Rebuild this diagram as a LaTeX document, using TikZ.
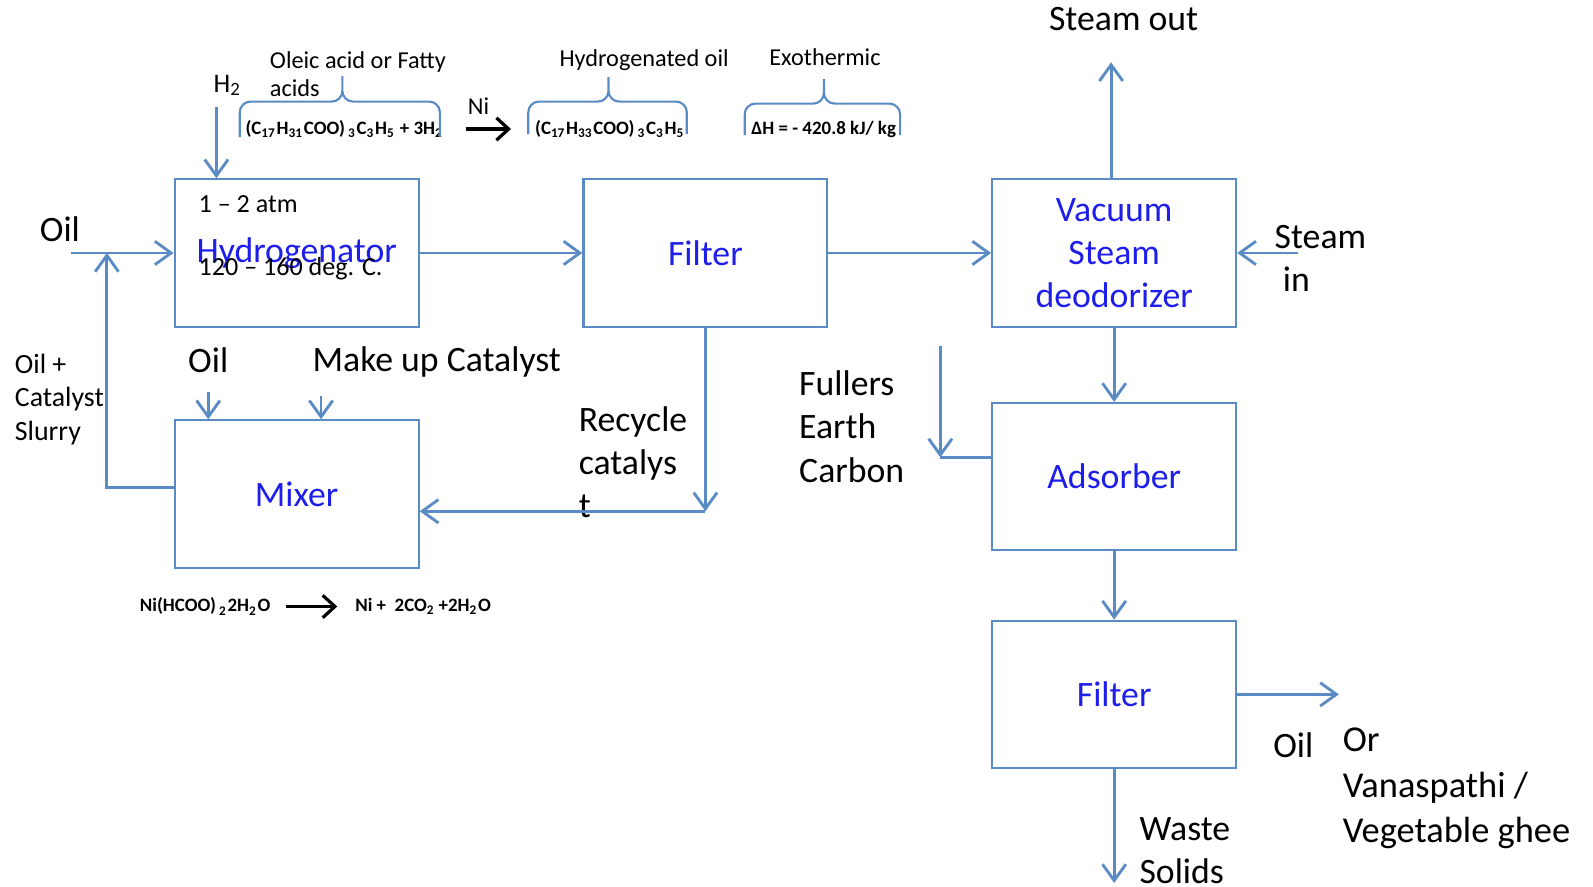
\documentclass[tikz,border=0pt]{standalone}
\usepackage{fontspec}
\setmainfont{Carlito}
\usetikzlibrary{arrows.meta,positioning,calc}
\definecolor{pipeblue}{RGB}{91,139,196}
\definecolor{unitblue}{RGB}{30,30,235}

\begin{document}
\begin{tikzpicture}[
    x=0.01cm, y=-0.01cm,
    node distance=1.6cm,
    unitbox/.style={rectangle, draw=pipeblue, line width=0.6pt, minimum width=2.4cm,
                    minimum height=1.45cm, align=center, text=unitblue,
                    font=\fontsize{10}{12}\selectfont},
    lbl/.style={align=left, inner sep=0pt, font=\fontsize{10}{12.1}\selectfont},
    cond/.style={anchor=west, inner sep=0pt, font=\fontsize{7.3}{9}\selectfont},
    note/.style={align=left, inner sep=0pt, font=\fontsize{6.8}{8}\selectfont},
    chem/.style={anchor=west, inner sep=0pt, font=\fontsize{5.3}{6}\selectfont\bfseries},
    flow/.style={draw=pipeblue, line width=0.8pt, -{Straight Barb[length=1.6mm,width=2.3mm]}},
    pipe/.style={draw=pipeblue, line width=0.8pt},
    brc/.style={draw=pipeblue, line width=0.6pt, rounded corners=3pt},
    rxn/.style={line width=0.9pt, -{Straight Barb[length=1.2mm,width=2.2mm]}},
]
    \useasboundingbox (0,0) rectangle (1568,873);

    % process units
    \node[unitbox] (hyd) at (292,249) {Hydrogenator};
    \node[unitbox, right=of hyd] (filt) {Filter};
    \node[unitbox, right=of filt] (vac) {Vacuum\\Steam\\deodorizer};
    \node[unitbox, below=0.9cm of hyd] (mix) {Mixer};
    \node[unitbox, below=0.73cm of vac] (ads) {Adsorber};
    \node[unitbox, below=0.67cm of ads] (filt2) {Filter};

    \node[cond] (pres) at ($(hyd.north west)+(24,26)$) {1 -- 2 atm};
    \node[cond] (temp) at ($(hyd.north west)+(24,89)$) {120 -- 160 deg. C.};

    % stream labels
    \node[lbl] (oilA) at (59,226) {Oil};
    \node[lbl, anchor=west, font=\fontsize{7.8}{9.4}\selectfont] (slurry) at (14,393) {Oil +\\Catalyst\\Slurry};
    \node[lbl] (oilB) at (205,355) {Oil};
    \node[lbl, anchor=west] (mkup) at (307,356) {Make up Catalyst};
    \node[lbl, anchor=west] (recy) at (569,455) {Recycle\\catalys\\t};
    \node[lbl, anchor=west] (fuller) at (786,420) {Fullers\\Earth\\Carbon};
    \node[lbl] (stoutlbl) at (1106,19) {Steam out};
    \node[lbl, anchor=west] (stinlbl) at (1254,254) {Steam\\\hspace*{0.08cm}in};
    \node[lbl] (oilC) at (1273,734) {Oil};
    \node[lbl, anchor=west, font=\fontsize{10.2}{12.7}\selectfont] (prodlbl) at (1321,776)
        {Or\\Vanaspathi /\\Vegetable ghee};
    \node[lbl, anchor=west] (wastelbl) at (1121,837) {Waste\\Solids};

    % reaction notes
    \node[note, font=\fontsize{7.5}{9}\selectfont] (htwo) at (224,84) {H\textsubscript{2}};
    \node[note, anchor=west] (oleic) at (265,73) {Oleic acid or Fatty\\acids};
    \node[note] (hoil) at (634,59) {Hydrogenated oil};
    \node[note] (exo) at (812,56) {Exothermic};
    \node[note] (ni) at (471,104) {Ni};
    \node[chem] (f1) at (241,127)
        {(C\textsubscript{17}H\textsubscript{31}COO)\,\textsubscript{3}C\textsubscript{3}H\textsubscript{5} + 3H\textsubscript{2}};
    \node[chem] (f2) at (526,127)
        {(C\textsubscript{17}H\textsubscript{33}COO)\,\textsubscript{3}C\textsubscript{3}H\textsubscript{5}};
    \node[chem] (f3) at (739,127) {ΔH = - 420.8 kJ/ kg};
    \node[chem] (fmt) at (137,597) {Ni(HCOO)\,\textsubscript{2}2H\textsubscript{2}O};
    \node[chem] (prod2) at (349,597) {Ni +\ \ 2CO\textsubscript{2}\,+2H\textsubscript{2}O};

    \draw[rxn] ([xshift=0.21cm]f1.east) -- ([xshift=-0.23cm]f2.west);
    \draw[rxn] ([xshift=0.15cm]fmt.east) -- ([xshift=-0.17cm]prod2.west);

    % braces
    \draw[brc] (236,135) -- (236,100) -- (337,100) -- (337,75)
               (433,135) -- (433,100) -- (337,100) -- (337,75);
    \draw[brc] (520,132) -- (520,100) -- (599,100) -- (599,76)
               (676,132) -- (676,100) -- (599,100) -- (599,76);
    \draw[brc] (733,133) -- (733,102) -- (811,102) -- (811,78)
               (886,133) -- (886,102) -- (811,102) -- (811,78);

    % streams
    \coordinate[left=1.01cm of hyd.west] (oilsrc);
    \coordinate (tee) at ($(oilsrc)!0.35!(hyd.west)$);
    \coordinate (h2src) at (213,105);
    \coordinate[right=0.6cm of vac.east] (stin);
    \coordinate[above=1.14cm of vac.north] (stout);
    \coordinate[right=1cm of filt2.east] (prod);
    \coordinate[below=1.12cm of filt2.south] (waste);
    \coordinate (fjoin) at ($(ads.west)+(-50,-19)$);
    \coordinate (fsrc) at ($(fjoin)+(0,-110)$);
    \coordinate (rcy) at ($(filt.south |- mix.east)+(0,17)$);

    \draw[flow] (oilsrc) -- (hyd.west);
    \draw[flow] ([yshift=0.065cm]mix.west) -| (tee);
    \draw[flow] (h2src) -- (h2src |- hyd.north);
    \draw[flow] (hyd) -- (filt);
    \draw[flow] (filt) -- (vac);
    \draw[flow] (stin) -- (vac.east);
    \draw[flow] ([xshift=-0.03cm]vac.north) -- ([xshift=-0.03cm]stout);
    \draw[flow] (vac) -- (ads);
    \draw[flow] (ads) -- (filt2);
    \draw[flow] (filt2) -- (prod);
    \draw[flow] (filt2) -- (waste);
    \draw[flow] (fsrc) -- (fjoin);
    \draw[pipe] (fjoin) -- (fjoin -| ads.west);
    \draw[flow] (filt.south) -- (rcy);
    \draw[flow] (rcy) -- (rcy -| mix.east);
    \draw[flow] ([yshift=-0.18cm]oilB.south) -- (oilB.south |- mix.north);
    \draw[flow] ([xshift=0.09cm,yshift=-0.18cm]mkup.south west) coordinate (mk) -- (mk |- mix.north);
\end{tikzpicture}
\end{document}
